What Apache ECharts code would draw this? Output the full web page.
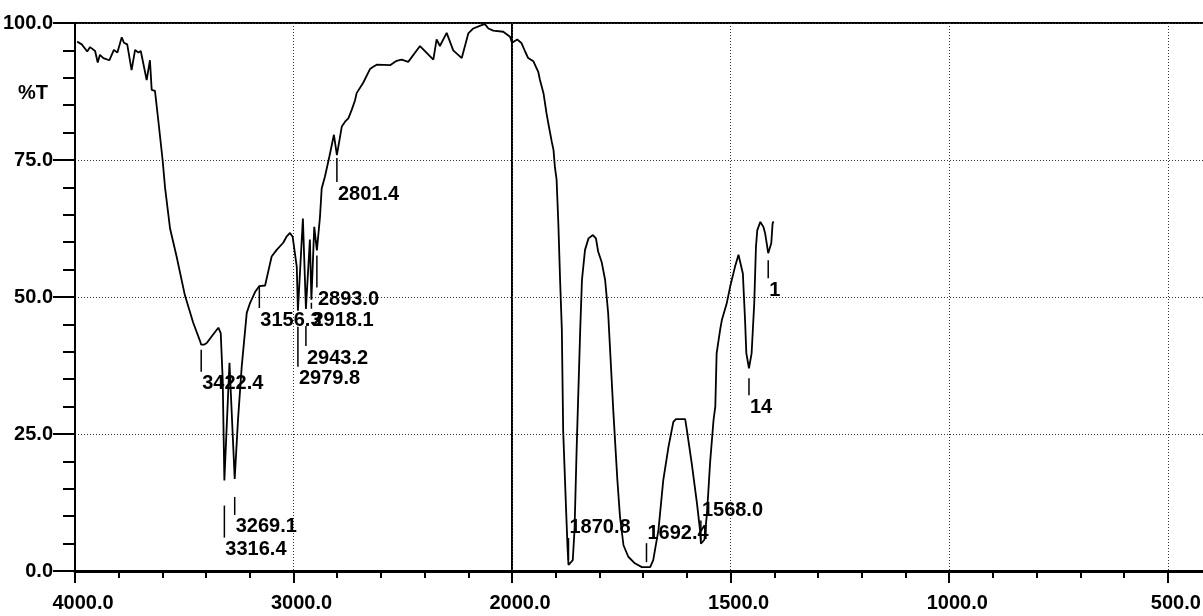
<!DOCTYPE html>
<html><head><meta charset="utf-8">
<script src="https://cdn.jsdelivr.net/npm/echarts@6/dist/echarts.min.js"></script>
<style>html,body{margin:0;padding:0;background:#fff}#c{width:1203px;height:616px}</style>
</head><body><div id="c"></div>
<script>
// ---- DATA ----
const leftWavenumbers = [3990,3969,3944,3931,3908,3896,3886,3870,3843,3822,3806,3786,3776,3761,3741,3725,3710,3699,3690,3672,3657,3649,3634,3619,3599,3588,3565,3535,3497,3459,3428,3422.4,3410,3397,3367,3344,3333,3324,3316.4,3293,3269.1,3254,3237,3214,3199,3176,3156.3,3130,3117,3100,3077,3047,3032,3016,3004,2985,2979.8,2957,2943.2,2925,2918.1,2905,2893.0,2879,2871,2856,2836,2815,2801.4,2779,2764,2749,2734,2719,2711,2681,2650,2635,2619,2558,2528,2505,2475,2421,2360,2345,2330,2299,2269,2230,2200,2177,2139,2124,2108,2086,2040,2009,2000];
const leftTransmittance = [96.6,96.1,94.8,95.6,94.9,92.8,94.2,93.6,93.2,95.1,94.6,97.4,96.4,96.1,91.4,95.1,94.6,94.9,94.9,89.6,93.2,87.8,87.6,82.3,75.0,70.0,62.5,57.4,50.3,45.3,42.0,41.3,41.3,41.6,43.2,44.4,43.4,34.9,16.5,38.0,16.8,27.6,37.3,47.1,48.9,50.9,52.0,52.1,54.4,57.4,58.6,59.9,61.0,61.7,61.0,55.5,47.5,64.3,47.8,60.5,49.5,62.8,58.5,64.5,69.8,72.0,75.6,79.6,75.9,81.1,82.0,82.6,84.1,85.8,87.2,89.1,91.6,92.0,92.4,92.3,93.1,93.3,92.9,95.8,93.3,97.0,95.8,98.2,95.0,93.6,98.1,99.0,99.6,99.8,99.0,98.6,98.4,97.5,96.4];
const rightWavenumbers = [2000,1988,1978,1970,1963,1951,1940,1936,1928,1921,1917,1909,1905,1902,1898,1894,1890,1886,1883,1876,1873,1870.8,1861,1857,1852,1844,1840,1833,1825,1815,1808,1803,1795,1787,1780,1768,1759,1753,1745,1734,1719,1703,1692.4,1684,1677,1665,1654,1642,1631,1625,1604,1600,1589,1577,1570,1568.0,1560,1554,1547,1539,1535,1532,1524,1520,1509,1501,1490,1482,1478,1472,1467,1464,1458,1452,1446,1442,1439,1432,1425,1421,1414,1407,1404,1402];
const rightTransmittance = [96.4,97.0,96.3,94.8,93.6,93.0,91.1,89.6,87.2,83.5,81.7,78.3,76.8,73.8,71.4,63.4,53.1,44.0,25.7,10.6,4.4,1.1,2.0,7.5,22.7,44.0,53.1,58.6,60.7,61.3,60.7,58.3,56.4,53.1,47.0,28.8,16.6,9.9,4.7,2.6,1.4,0.7,0.7,0.7,2.0,7.5,16.6,22.7,27.2,27.7,27.7,25.7,19.7,12.4,7.5,5.0,5.7,10.5,19.7,27.6,30.0,39.7,44.0,45.8,48.8,51.9,55.5,57.7,57.7,54.3,45.8,39.7,37.0,39.7,48.8,59.2,62.2,63.7,62.8,61.6,58.0,59.8,63.4,63.8];
const peakWavenumbers = [3422.4,3316.4,3269.1,3156.3,2979.8,2943.2,2918.1,2893.0,2801.4,1870.8,1692.4,1568.0,1458,1414];
const peakLabels = ['3422.4','3316.4','3269.1','3156.3','2979.8','2943.2','2918.1','2893.0','2801.4','1870.8','1692.4','1568.0','14','1'];
const rightMajorTicks = [2000,1500,1000,500];
const rightLabelTicks = [1500,1000,500];
const rightMinorTicks = [1900,1800,1700,1600,1400,1300,1200,1100,900,800,700,600];

// ---- LAYOUT (pixels) ----
const peakTickGap = [5,25,18,1,16,17,3,5,3,5,5,3,10,7];
const peakTickLen = [22,32,18,21,40,20,6,32,24,22,19,20,17,18];
const peakAbove   = [0,0,0,0,0,0,0,0,0,1,1,1,0,0];

const FF = '"Liberation Sans", Arial, Helvetica, sans-serif';
const FONT = 'bold 20px ' + FF;
const fmt = v => Number(v).toFixed(1);

function lookupT(wn){
  let i = leftWavenumbers.indexOf(wn);
  if (i >= 0) return leftTransmittance[i];
  i = rightWavenumbers.indexOf(wn);
  return rightTransmittance[i];
}
const leftData = leftWavenumbers.map((w,i)=>[w,leftTransmittance[i]]);
const rightData = rightWavenumbers.map((w,i)=>[w,rightTransmittance[i]]);
const peaksLeft = [], peaksRight = [];
peakWavenumbers.forEach((w,i)=>{
  const d = [w, lookupT(w), i];
  (w >= 2000 ? peaksLeft : peaksRight).push(d);
});

function renderPeak(params, api){
  const i = api.value(2);
  const p = api.coord([api.value(0), api.value(1)]);
  const dir = peakAbove[i] ? -1 : 1;
  const y1 = p[1] + dir*peakTickGap[i];
  const y2 = y1 + dir*peakTickLen[i];
  const ly = peakAbove[i] ? y2 - 10 : y2 + 12;
  return {type:'group', children:[
    {type:'line', shape:{x1:p[0],y1:y1,x2:p[0],y2:y2}, style:{stroke:'#000', lineWidth:1.5}},
    {type:'text', x:p[0]+1, y:ly, style:{text:peakLabels[i], font:FONT, fill:'#000', align:'left', verticalAlign:'middle'}}
  ]};
}

const gridSplit = {show:true, lineStyle:{color:'#333', type:[1,2], width:1}};
const tickStyle = {color:'#000', width:2};
const labelStyle = {color:'#000', fontSize:20, fontWeight:'bold', fontFamily:FF};

const chart = echarts.init(document.getElementById('c'), null, {renderer:'canvas'});
chart.setOption({
  animation:false,
  backgroundColor:'#fff',
  grid:[
    {left:75, top:23, width:437, height:548, show:true, borderColor:'#000', borderWidth:2, containLabel:false, outerBoundsMode:'none'},
    {left:512, top:23, right:-2, height:548, show:true, borderColor:'#000', borderWidth:2, containLabel:false, outerBoundsMode:'none'}
  ],
  xAxis:[
    {gridIndex:0, type:'value', min:2000, max:4000, interval:1000, inverse:true, position:'bottom',
     axisLine:{show:true, onZero:false, lineStyle:{color:'#000', width:3}},
     axisTick:{show:true, length:12, lineStyle:tickStyle},
     minorTick:{show:true, splitNumber:5, length:7, lineStyle:tickStyle},
     axisLabel:Object.assign({show:true, margin:22, formatter:fmt, padding:[0,0,0,16], hideOverlap:false}, labelStyle),
     splitLine:gridSplit},
    {gridIndex:1, type:'value', min:415, max:2000, inverse:true, position:'bottom',
     axisLine:{show:true, onZero:false, lineStyle:{color:'#000', width:3}},
     axisTick:{show:true, length:12, customValues:rightMajorTicks, lineStyle:tickStyle},
     axisLabel:Object.assign({show:true, margin:22, formatter:fmt, customValues:rightLabelTicks, padding:[0,0,0,16], hideOverlap:false}, labelStyle),
     splitLine:gridSplit},
    {gridIndex:1, type:'value', min:415, max:2000, inverse:true, position:'bottom',
     axisLine:{show:false, onZero:false},
     axisTick:{show:true, length:7, customValues:rightMinorTicks, lineStyle:tickStyle},
     axisLabel:{show:false},
     splitLine:{show:false}}
  ],
  yAxis:[
    {gridIndex:0, type:'value', min:0, max:100, interval:25,
     axisLine:{show:true, onZero:false, lineStyle:{color:'#000', width:2}},
     axisTick:{show:true, length:22, lineStyle:tickStyle},
     minorTick:{show:true, splitNumber:5, length:12, lineStyle:tickStyle},
     axisLabel:Object.assign({show:true, margin:22, formatter:fmt, hideOverlap:false}, labelStyle),
     splitLine:gridSplit},
    {gridIndex:1, type:'value', min:0, max:100, interval:25,
     axisLine:{show:false}, axisTick:{show:false}, axisLabel:{show:false},
     splitLine:gridSplit}
  ],
  graphic:[{type:'text', left:18, top:83, style:{text:'%T', font:FONT, fill:'#000'}}],
  series:[
    {type:'line', xAxisIndex:0, yAxisIndex:0, data:leftData, symbol:'none', showSymbol:false,
     lineStyle:{color:'#000', width:1.8}, z:3},
    {type:'line', xAxisIndex:1, yAxisIndex:1, data:rightData, symbol:'none', showSymbol:false,
     lineStyle:{color:'#000', width:1.8}, z:3},
    {type:'custom', xAxisIndex:0, yAxisIndex:0, data:peaksLeft, renderItem:renderPeak, clip:false, z:4,
     encode:{x:0, y:1}},
    {type:'custom', xAxisIndex:1, yAxisIndex:1, data:peaksRight, renderItem:renderPeak, clip:false, z:4,
     encode:{x:0, y:1}}
  ]
});
</script></body></html>
